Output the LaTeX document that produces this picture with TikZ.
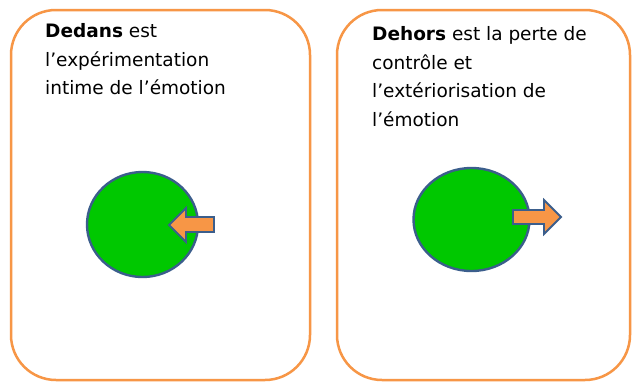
\documentclass[tikz,border=0pt]{standalone}
\usepackage{fontspec}
\setmainfont{DejaVu Sans}
\definecolor{boxorange}{HTML}{F79646}
\definecolor{circgreen}{HTML}{00C800}
\definecolor{edgeblue}{HTML}{3B5E8C}
\tikzset{
  panel/.style={draw=boxorange, line width=2.5pt, rounded corners=45pt},
  blob/.style={fill=circgreen, draw=edgeblue, line width=2.4pt},
  arrowshape/.style={fill=boxorange, draw=edgeblue, line width=1.8pt, line join=miter},
  txt/.style={anchor=north west, inner sep=0pt, align=left, font=\fontsize{18.5}{28.8}\selectfont}
}
\begin{document}
\begin{tikzpicture}[x=1pt,y=-1pt]
\fill[white] (0,0) rectangle (632,383);
\useasboundingbox (0,0) rectangle (632,383);
% panels
\draw[panel] (11,10) rectangle (310,380);
\draw[panel] (337,10) rectangle (630,380);
% texts
\node[txt] (tin) at (45,23) {\textbf{Dedans} est\\l’expérimentation\\intime de l’émotion};
\node[txt] (tout) at (372,26) {\textbf{Dehors} est la perte de\\contrôle et\\l’extériorisation de\\l’émotion};
% circles
\draw[blob] (142.5,224.5) ellipse [x radius=55.5, y radius=52.5];
\draw[blob] (471.5,219.5) ellipse [x radius=58, y radius=51.5];
% arrows
\draw[arrowshape] (169,225) -- (186,208) -- (186,217) -- (214,217) -- (214,232) -- (186,232) -- (186,242) -- cycle;
\draw[arrowshape] (561,217) -- (544,200) -- (544,210) -- (513,210) -- (513,224) -- (544,224) -- (544,234) -- cycle;
\end{tikzpicture}
\end{document}
